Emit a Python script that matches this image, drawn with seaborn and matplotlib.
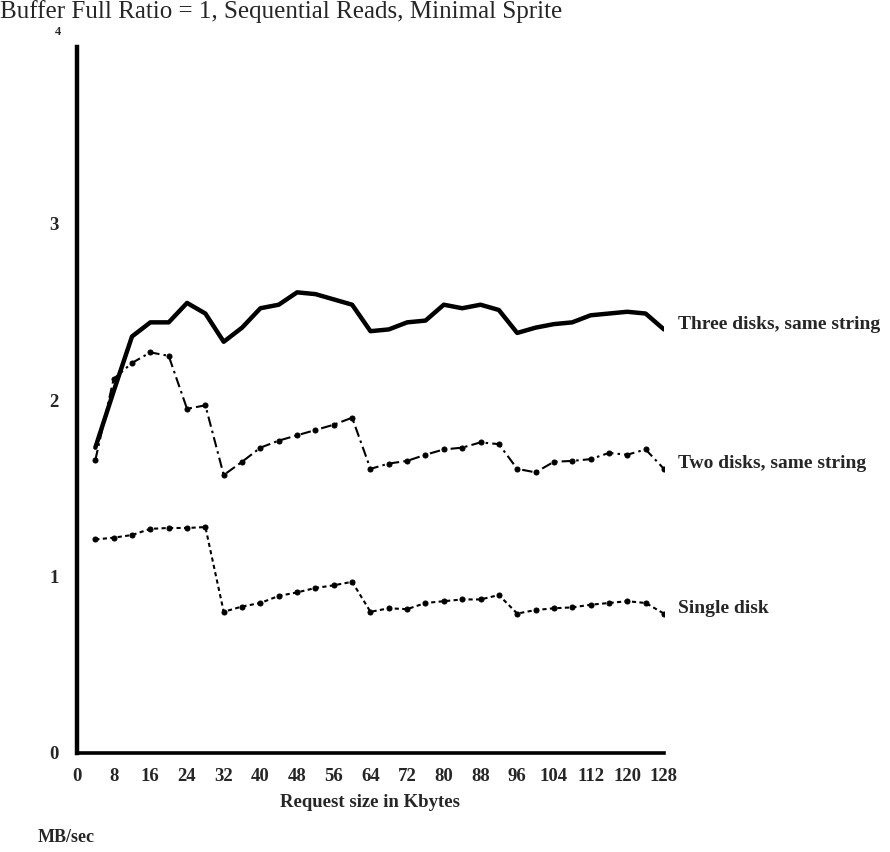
import matplotlib
matplotlib.use("Agg")
import matplotlib.pyplot as plt
import seaborn as sns
import pandas as pd

# ---- data ----
request_kb = [4, 8, 12, 16, 20, 24, 28, 32, 36, 40, 44, 48, 52, 56, 60, 64,
              68, 72, 76, 80, 84, 88, 92, 96, 100, 104, 108, 112, 116, 120, 124, 128]
three_disks = [1.73, 2.05, 2.36, 2.44, 2.44, 2.55, 2.49, 2.33, 2.41, 2.52, 2.54, 2.61,
               2.60, 2.57, 2.54, 2.39, 2.40, 2.44, 2.45, 2.54, 2.52, 2.54, 2.51, 2.38,
               2.41, 2.43, 2.44, 2.48, 2.49, 2.50, 2.49, 2.40]
two_disks = [1.66, 2.12, 2.21, 2.27, 2.25, 1.95, 1.97, 1.575, 1.65, 1.73, 1.77, 1.80,
             1.83, 1.86, 1.90, 1.61, 1.64, 1.655, 1.69, 1.72, 1.73, 1.76, 1.75, 1.61,
             1.59, 1.65, 1.655, 1.665, 1.70, 1.69, 1.72, 1.61]
single_disk = [1.21, 1.22, 1.235, 1.27, 1.275, 1.275, 1.28, 0.80, 0.83, 0.85, 0.89, 0.91,
               0.935, 0.95, 0.97, 0.80, 0.82, 0.815, 0.85, 0.86, 0.87, 0.87, 0.895, 0.79,
               0.81, 0.82, 0.825, 0.84, 0.85, 0.86, 0.85, 0.79]
series_names = ["Three disks, same string", "Two disks, same string", "Single disk"]
x_ticks = list(range(0, 129, 8))
y_ticks = [0, 1, 2, 3, 4]

title = "Buffer Full Ratio = 1, Sequential Reads, Minimal Sprite"
x_label = "Request size in Kbytes"
y_label = "MB/sec"

sns.set_style("white")
plt.rcParams["font.family"] = ["Liberation Serif", "DejaVu Serif"]

fig = plt.figure(figsize=(8.9, 8.52), dpi=100)
ax = fig.add_axes([0.0865, 0.1162, 0.746 - 0.0865, 0.9448 - 0.1162])

styles = [
    dict(lw=3.2, linestyle="-", marker=None),
    dict(lw=1.5, linestyle=(0, (5, 2, 1.2, 2)), marker="o", markersize=3.6,
         markeredgecolor="black", markerfacecolor="black"),
    dict(lw=1.5, linestyle=(0, (2, 1.6)), marker="o", markersize=3.6,
         markeredgecolor="black", markerfacecolor="black"),
]
for vals, st in zip([three_disks, two_disks, single_disk], styles):
    df = pd.DataFrame({"x": request_kb, "y": vals})
    sns.lineplot(data=df, x="x", y="y", ax=ax, color="black", **st)

for name, vals in zip(series_names, [three_disks, two_disks, single_disk]):
    ax.annotate(name, xy=(request_kb[-1], vals[-1]), xytext=(10, 3.5),
                textcoords="offset points", ha="left", va="center",
                fontsize=14, fontweight="bold", annotation_clip=False)

ax.set_xlim(0, 128)
ax.set_ylim(0, 4)
ax.set_xticks(x_ticks)
ax.set_xticklabels([str(t) for t in x_ticks], fontsize=13.5, fontweight="bold")
ax.set_yticks(y_ticks)
ax.set_yticklabels([str(t) for t in y_ticks[:-1]] + [""], fontsize=13.5,
                   fontweight="bold")
# the "4" label sits above the top of the axis, in a smaller size
ax.annotate(str(y_ticks[-1]), xy=(0, y_ticks[-1]), xytext=(-14, 11),
            textcoords="offset points", ha="center", va="center",
            fontsize=9, fontweight="bold", annotation_clip=False)

ax.tick_params(axis="both", direction="out", length=5, width=2, color="black", pad=6)
ax.tick_params(axis="y", pad=8)
for side in ["top", "right"]:
    ax.spines[side].set_visible(False)
ax.spines["left"].set_linewidth(3.2)
ax.spines["bottom"].set_linewidth(2.6)
ax.spines["left"].set_color("black")
ax.spines["bottom"].set_color("black")

ax.set_xlabel(x_label, fontsize=13.5, fontweight="bold", labelpad=6)
ax.set_ylabel("")
fig.text(38 / 890, 1 - 838 / 852, y_label, fontsize=13, fontweight="bold",
         ha="left", va="center")
fig.text(0.0, 1 - 12 / 852, title, fontsize=18, ha="left", va="center")

fig.savefig("out.png", dpi=100)
